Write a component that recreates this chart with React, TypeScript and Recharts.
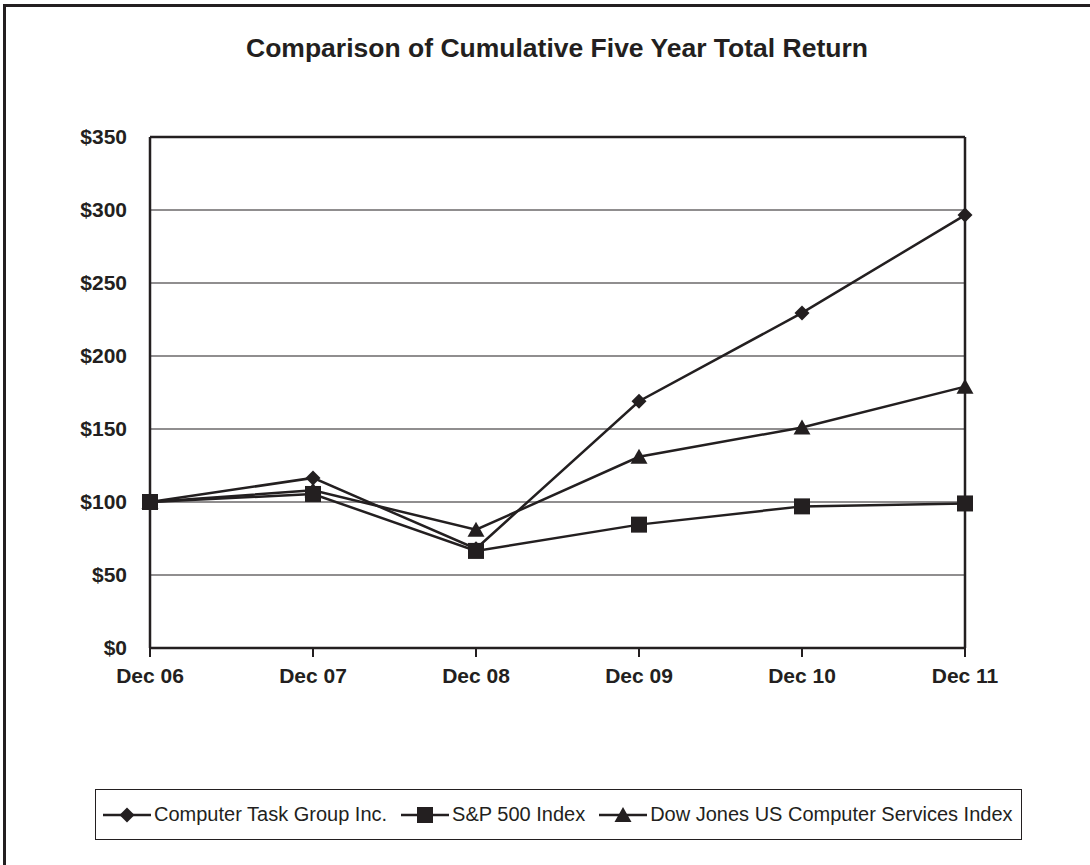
import React from 'react';
import { LineChart, Line, XAxis, YAxis, CartesianGrid, ReferenceLine } from 'recharts';

const INK = '#231f20';
const FONT = '"Liberation Sans", Arial, Helvetica, sans-serif';

// chart values
const years = ['Dec 06', 'Dec 07', 'Dec 08', 'Dec 09', 'Dec 10', 'Dec 11'];
const ctg = [100, 116.5, 68, 169, 229.5, 296.5];
const sp500 = [100, 105.5, 66.5, 84.5, 97, 99];
const djComputer = [100, 108, 81, 131, 151, 179];
const yTicks = [0, 50, 100, 150, 200, 250, 300, 350];

const SERIES = [
  { key: 'ctg', name: 'Computer Task Group Inc.', marker: 'diamond' },
  { key: 'sp', name: 'S&P 500 Index', marker: 'square' },
  { key: 'dj', name: 'Dow Jones US Computer Services Index', marker: 'triangle' },
];

const data = years.map((year, i) => ({
  year,
  ctg: ctg[i],
  sp: sp500[i],
  dj: djComputer[i],
}));

const Marker = ({ type, cx, cy }: { type: string; cx: number; cy: number }) => {
  if (type === 'diamond') {
    const r = 7.5;
    return <path d={`M${cx},${cy - r}L${cx + r},${cy}L${cx},${cy + r}L${cx - r},${cy}Z`} fill={INK} />;
  }
  if (type === 'square') {
    const h = 8;
    return <rect x={cx - h} y={cy - h} width={h * 2} height={h * 2} fill={INK} />;
  }
  // triangle
  return <path d={`M${cx},${cy - 8}L${cx + 8.5},${cy + 7}L${cx - 8.5},${cy + 7}Z`} fill={INK} />;
};

const dotFor = (type: string) => (p: any) => (
  <Marker key={`${type}-${p.index}`} type={type} cx={p.cx} cy={p.cy} />
);

const LegendIcon = ({ type }: { type: string }) => (
  <svg width={48} height={20} style={{ display: 'block' }}>
    <line x1={0} y1={10} x2={48} y2={10} stroke={INK} strokeWidth={2.5} />
    <Marker type={type} cx={24} cy={10} />
  </svg>
);

export default function App() {
  return (
    <div style={{ position: 'fixed', left: 0, top: 0, width: 1090, height: 865, background: '#fff', overflow: 'hidden', fontFamily: FONT }}>
      {/* outer frame, runs off the right and bottom edges */}
      <div style={{ position: 'absolute', left: 3, top: 4, width: 1200, height: 1000, border: `3px solid ${INK}` }} />

      <svg width={1090} height={80} style={{ position: 'absolute', left: 0, top: 0 }}>
        <text x={557} y={57} textAnchor="middle" fontFamily={FONT} fontWeight="bold" fontSize={26.5} fill={INK}>
          Comparison of Cumulative Five Year Total Return
        </text>
      </svg>

      <div style={{ position: 'absolute', left: 0, top: 0 }}>
        <LineChart width={1090} height={865} data={data} margin={{ top: 137, right: 125, left: 0, bottom: 177 }}>
          <CartesianGrid horizontal vertical={false} stroke={INK} strokeWidth={1.2} />
          <XAxis
            dataKey="year"
            height={40}
            axisLine={{ stroke: INK, strokeWidth: 2.5 }}
            tickLine={{ stroke: INK, strokeWidth: 2 }}
            tickSize={9}
            tickMargin={11}
            tick={{ fill: INK, fontSize: 21, fontWeight: 'bold', fontFamily: FONT }}
            interval={0}
          />
          <YAxis
            width={150}
            domain={[0, 350]}
            ticks={yTicks}
            tickFormatter={(v: number) => `$${v}`}
            axisLine={{ stroke: INK, strokeWidth: 2.5 }}
            tickLine={false}
            tickSize={0}
            tickMargin={23}
            tick={{ fill: INK, fontSize: 21, fontWeight: 'bold', fontFamily: FONT }}
            interval={0}
          />
          <ReferenceLine y={350} stroke={INK} strokeWidth={2.5} />
          <ReferenceLine x="Dec 11" stroke={INK} strokeWidth={2.5} />
          <Line dataKey="ctg" stroke={INK} strokeWidth={2.5} dot={dotFor('diamond')} activeDot={false} isAnimationActive={false} />
          <Line dataKey="dj" stroke={INK} strokeWidth={2.5} dot={dotFor('triangle')} activeDot={false} isAnimationActive={false} />
          <Line dataKey="sp" stroke={INK} strokeWidth={2.5} dot={dotFor('square')} activeDot={false} isAnimationActive={false} />
        </LineChart>
      </div>

      {/* legend box */}
      <div
        style={{
          position: 'absolute',
          left: 95,
          top: 789,
          width: 927,
          height: 51,
          boxSizing: 'border-box',
          border: `1.5px solid ${INK}`,
          display: 'flex',
          alignItems: 'center',
          paddingLeft: 7,
          gap: 14,
          fontSize: 20,
          color: INK,
        }}
      >
        {SERIES.map((s) => (
          <div key={s.key} style={{ display: 'flex', alignItems: 'center', gap: 3, whiteSpace: 'nowrap' }}>
            <LegendIcon type={s.marker} />
            <span>{s.name}</span>
          </div>
        ))}
      </div>
    </div>
  );
}
